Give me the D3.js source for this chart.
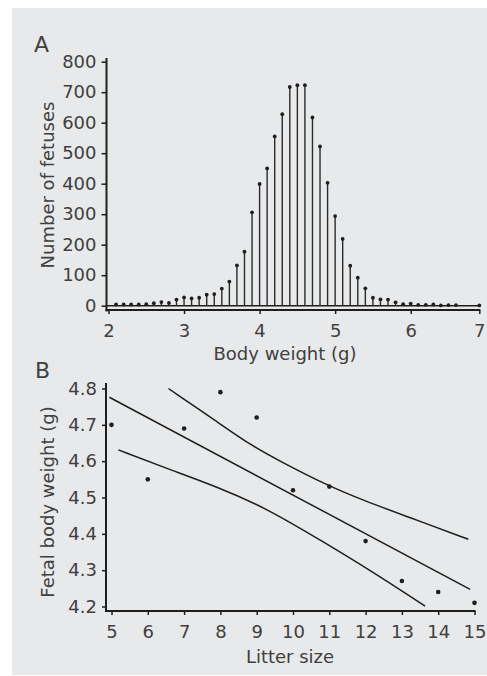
<!DOCTYPE html>
<html>
<head>
<meta charset="utf-8">
<script src="https://cdn.jsdelivr.net/npm/d3@7"></script>
<style>
    body { margin: 0; background: #fff; }
    svg text { font-family: "DejaVu Sans", sans-serif; fill: #404040; }
</style>
</head>
<body>
<div id="chart"></div>
<script>

// Panel A: distribution of fetal body weight
const weightBins = [2.1, 2.2, 2.3, 2.4, 2.5, 2.6, 2.7, 2.8, 2.9, 3.0,
    3.1, 3.2, 3.3, 3.4, 3.5, 3.6, 3.7, 3.8, 3.9, 4.0,
    4.1, 4.2, 4.3, 4.4, 4.5, 4.6, 4.7, 4.8, 4.9, 5.0,
    5.1, 5.2, 5.3, 5.4, 5.5, 5.6, 5.7, 5.8, 5.9, 6.0,
    6.1, 6.2, 6.3, 6.4, 6.5, 6.6, 7.0];
const fetusCounts = [4, 4, 4, 4, 5, 8, 12, 9, 20, 27,
    24, 26, 36, 38, 56, 79, 132, 177, 306, 399,
    450, 555, 628, 717, 723, 723, 617, 522, 403, 294,
    219, 131, 92, 57, 26, 21, 20, 11, 5, 7,
    3, 3, 4, 1, 2, 2, 1];
const weightTicks = [2, 3, 4, 5, 6, 7];
const countTicks = [0, 100, 200, 300, 400, 500, 600, 700, 800];

// Panel B: litter size vs mean fetal weight
const litterSizes = [5, 6, 7, 8, 9, 10, 11, 12, 13, 14, 15];
const meanWeights = [4.70, 4.55, 4.69, 4.79, 4.72, 4.52, 4.53, 4.38, 4.27, 4.24, 4.21];
// fitted line and confidence curves
const fitLine = [[4.94, 4.776], [14.88, 4.247]];
const upperBand = [[6.57, 4.800], [7.90, 4.709], [8.82, 4.645], [9.64, 4.600], [10.97, 4.532],
    [11.94, 4.492], [13.13, 4.448], [14.83, 4.385]];
const lowerBand = [[5.19, 4.631], [6.52, 4.580], [7.90, 4.530], [9.28, 4.470], [10.83, 4.378],
    [12.12, 4.300], [13.64, 4.201]];
const litterTicks = [5, 6, 7, 8, 9, 10, 11, 12, 13, 14, 15];
const weightAxisTicks = [4.2, 4.3, 4.4, 4.5, 4.6, 4.7, 4.8];

const ink = "#1e1e1e";

let svg = d3.select("#chart").append("svg")
    .attr("width", 487)
    .attr("height", 676);

// grey panel behind both charts
svg.append("rect")
    .attr("x", 12).attr("y", 8)
    .attr("width", 475).attr("height", 667)
    .attr("fill", "#e8e9ea");

/*
 * Panel A - stem plot
 */
function drawPanelA() {
    let g = svg.append("g");

    // the original squeezes the last piece of the axis, so the scale is polylinear
    let x = d3.scaleLinear().domain([2, 6.6, 7]).range([108.5, 456, 479.3]);
    let y = d3.scaleLinear().domain([0, 800]).range([305.7, 61.7]);

    let axisX = 106.5, axisY = 310;

    // y axis
    g.append("line")
        .attr("x1", axisX).attr("x2", axisX)
        .attr("y1", 58).attr("y2", axisY + 1.5)
        .attr("stroke", ink).attr("stroke-width", 2);
    let yAxis = g.append("g")
        .attr("transform", "translate(" + axisX + ",0)")
        .call(d3.axisLeft(y).tickValues(countTicks).tickSize(5).tickPadding(5).tickSizeOuter(0));
    yAxis.select(".domain").remove();
    yAxis.selectAll("line").attr("stroke", ink).attr("stroke-width", 1.5);
    yAxis.selectAll("text").style("font-size", "18px").attr("fill", "#404040");

    // x axis, sitting a little under the zero line
    g.append("line")
        .attr("x1", axisX - 1).attr("x2", x(7) + 1)
        .attr("y1", axisY).attr("y2", axisY)
        .attr("stroke", ink).attr("stroke-width", 2);
    let xAxis = g.append("g")
        .attr("transform", "translate(0," + axisY + ")")
        .call(d3.axisBottom(x).tickValues(weightTicks).tickFormat(d3.format("d")).tickSize(4).tickPadding(10).tickSizeOuter(0));
    xAxis.select(".domain").remove();
    xAxis.selectAll("line").attr("stroke", ink).attr("stroke-width", 1.5);
    xAxis.selectAll("text").style("font-size", "18px").attr("fill", "#404040");

    // zero line
    g.append("line")
        .attr("x1", axisX).attr("x2", x(7))
        .attr("y1", y(0)).attr("y2", y(0))
        .attr("stroke", ink).attr("stroke-width", 1.5);

    let stems = weightBins.map((w, i) => ({w: w, n: fetusCounts[i]}));

    g.selectAll(".stem")
        .data(stems)
        .enter().append("line")
        .attr("class", "stem")
        .attr("x1", d => x(d.w)).attr("x2", d => x(d.w))
        .attr("y1", y(0)).attr("y2", d => y(d.n))
        .attr("stroke", "#2a2a2a").attr("stroke-width", 1.4);

    g.selectAll(".tip")
        .data(stems)
        .enter().append("circle")
        .attr("class", "tip")
        .attr("cx", d => x(d.w)).attr("cy", d => y(d.n))
        .attr("r", 1.9)
        .attr("fill", ink);

    g.append("text")
        .attr("x", 34).attr("y", 52)
        .style("font-size", "22px")
        .text("A");

    g.append("text")
        .attr("transform", "translate(53.5,185) rotate(-90)")
        .attr("text-anchor", "middle")
        .style("font-size", "18px")
        .text("Number of fetuses");

    g.append("text")
        .attr("x", 285).attr("y", 360)
        .attr("text-anchor", "middle")
        .style("font-size", "18px")
        .text("Body weight (g)");
}

/*
 * Panel B - scatter with regression line and confidence curves
 */
function drawPanelB() {
    let g = svg.append("g");

    let x = d3.scaleLinear().domain([5, 15]).range([111.5, 474.5]);
    let y = d3.scaleLinear().domain([4.2, 4.8]).range([606.5, 388.5]);

    let axisX = 106, axisY = 611;

    g.append("line")
        .attr("x1", axisX).attr("x2", axisX)
        .attr("y1", 383).attr("y2", axisY + 1)
        .attr("stroke", ink).attr("stroke-width", 2);
    let yAxis = g.append("g")
        .attr("transform", "translate(" + axisX + ",0)")
        .call(d3.axisLeft(y).tickValues(weightAxisTicks).tickFormat(d3.format(".1f")).tickSize(4).tickPadding(5).tickSizeOuter(0));
    yAxis.select(".domain").remove();
    yAxis.selectAll("line").attr("stroke", ink).attr("stroke-width", 1.5);
    yAxis.selectAll("text").style("font-size", "18px").attr("fill", "#404040");

    g.append("line")
        .attr("x1", axisX - 1).attr("x2", x(15) + 1)
        .attr("y1", axisY).attr("y2", axisY)
        .attr("stroke", ink).attr("stroke-width", 2);
    let xAxis = g.append("g")
        .attr("transform", "translate(0," + axisY + ")")
        .call(d3.axisBottom(x).tickValues(litterTicks).tickFormat(d3.format("d")).tickSize(4).tickPadding(10).tickSizeOuter(0));
    xAxis.select(".domain").remove();
    xAxis.selectAll("line").attr("stroke", ink).attr("stroke-width", 1.5);
    xAxis.selectAll("text").style("font-size", "18px").attr("fill", "#404040");

    let line = d3.line()
        .x(d => x(d[0]))
        .y(d => y(d[1]))
        .curve(d3.curveBasis);

    g.selectAll(".fit")
        .data([fitLine, upperBand, lowerBand])
        .enter().append("path")
        .attr("class", "fit")
        .attr("d", line)
        .attr("fill", "none")
        .attr("stroke", ink)
        .attr("stroke-width", 1.5);

    g.selectAll(".dot")
        .data(litterSizes.map((s, i) => ({s: s, w: meanWeights[i]})))
        .enter().append("circle")
        .attr("class", "dot")
        .attr("cx", d => x(d.s)).attr("cy", d => y(d.w))
        .attr("r", 2.3)
        .attr("fill", ink);

    g.append("text")
        .attr("x", 35).attr("y", 378)
        .style("font-size", "22px")
        .text("B");

    g.append("text")
        .attr("transform", "translate(53.5,502) rotate(-90)")
        .attr("text-anchor", "middle")
        .style("font-size", "18px")
        .text("Fetal body weight (g)");

    g.append("text")
        .attr("x", 290).attr("y", 663)
        .attr("text-anchor", "middle")
        .style("font-size", "18px")
        .text("Litter size");
}

drawPanelA();
drawPanelB();

</script>
</body>
</html>
